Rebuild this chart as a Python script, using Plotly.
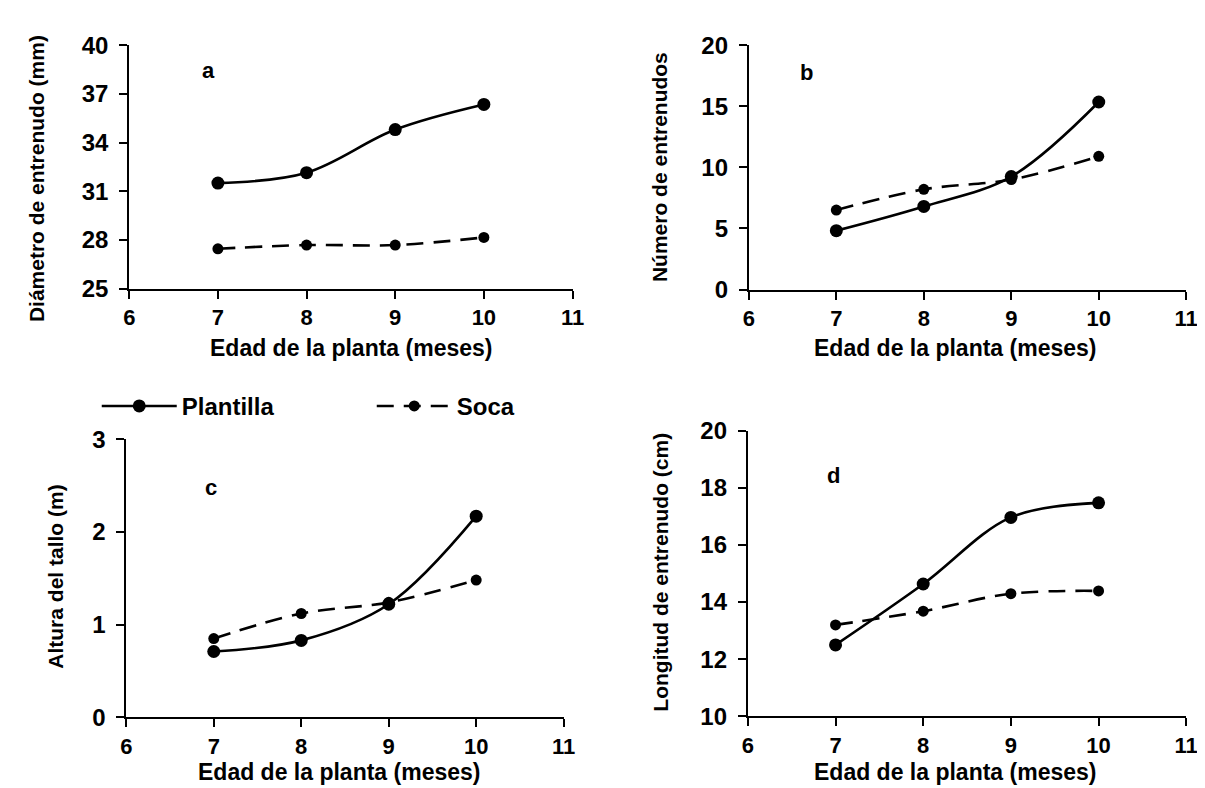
import plotly.graph_objects as go

months = [7, 8, 9, 10]

diam_plantilla = [31.5, 32.14, 34.8, 36.35]
diam_soca = [27.45, 27.68, 27.68, 28.15]

nent_plantilla = [4.82, 6.8, 9.25, 15.35]
nent_soca = [6.5, 8.2, 9.0, 10.9]

alt_plantilla = [0.71, 0.83, 1.22, 2.17]
alt_soca = [0.85, 1.12, 1.24, 1.48]

long_plantilla = [12.5, 14.63, 16.96, 17.47]
long_soca = [13.2, 13.68, 14.29, 14.39]

x_ticks = [6, 7, 8, 9, 10, 11]
ya_ticks = [25, 28, 31, 34, 37, 40]
yb_ticks = [0, 5, 10, 15, 20]
yc_ticks = [0, 1, 2, 3]
yd_ticks = [10, 12, 14, 16, 18, 20]

x_title = "Edad de la planta (meses)"
y_titles = ["Diámetro de entrenudo (mm)", "Número de entrenudos",
            "Altura del tallo (m)", "Longitud de entrenudo (cm)"]
panel_letters = ["a", "b", "c", "d"]

FONT = "Arial, Liberation Sans, sans-serif"

fig = go.Figure()

panels = [
    (diam_plantilla, diam_soca, "x", "y"),
    (nent_plantilla, nent_soca, "x2", "y2"),
    (alt_plantilla, alt_soca, "x3", "y3"),
    (long_plantilla, long_soca, "x4", "y4"),
]

for i, (pl, so, xa, ya) in enumerate(panels):
    fig.add_trace(go.Scatter(
        x=months, y=pl, xaxis=xa, yaxis=ya, name="Plantilla",
        mode="lines+markers", line=dict(color="black", width=2.6, shape="spline"),
        marker=dict(color="black", size=13), showlegend=(i == 0), legendgroup="p",
    ))
    fig.add_trace(go.Scatter(
        x=months, y=so, xaxis=xa, yaxis=ya, name="Soca",
        mode="lines+markers",
        line=dict(color="black", width=2.6, shape="spline", dash="17px,10px"),
        marker=dict(color="black", size=11), showlegend=(i == 0), legendgroup="s",
    ))

axis_common = dict(
    showline=True, linecolor="black", linewidth=2, ticks="outside",
    ticklen=8, tickwidth=2, tickcolor="black", showgrid=False, zeroline=False,
)

domains = [
    ([117 / 1205, 567 / 1205], [1 - 276 / 788, 1 - 24 / 788]),
    ([746 / 1205, 1190 / 1205], [1 - 277 / 788, 1 - 24 / 788]),
    ([114 / 1205, 558 / 1205], [1 - 720 / 788, 1 - 432 / 788]),
    ([745 / 1205, 1190 / 1205], [1 - 719 / 788, 1 - 423 / 788]),
]
y_tick_sets = [ya_ticks, yb_ticks, yc_ticks, yd_ticks]

layout = {}
for i, ((dx, dy), yt) in enumerate(zip(domains, y_tick_sets)):
    s = "" if i == 0 else str(i + 1)
    layout["xaxis" + s] = dict(
        axis_common, domain=dx, range=[x_ticks[0], x_ticks[-1]],
        tickvals=x_ticks, anchor="y" + s, ticklabelstandoff=0,
        tickfont=dict(family=FONT, size=22, color="black", weight=700),
    )
    layout["yaxis" + s] = dict(
        axis_common, domain=dy, range=[yt[0], yt[-1]],
        tickvals=yt, anchor="x" + s, ticklabelstandoff=6,
        tickfont=dict(family=FONT, size=24, color="black", weight=700),
    )

fig.update_layout(**layout)

annotations = []
# y titles
ytitle_pos = [(23, 162), (656, 150), (42, 574), (656, 570)]
for t, (px, py) in zip(y_titles, ytitle_pos):
    annotations.append(dict(
        text=t, x=px / 1205, y=1 - py / 788, xref="paper", yref="paper",
        xanchor="center", yanchor="middle", textangle=-90, showarrow=False,
        font=dict(family=FONT, size=21, color="black", weight=700),
    ))
# x titles
xtitle_pos = [(342, 338), (955, 338), (330, 777), (955, 777)]
for (px, py) in xtitle_pos:
    annotations.append(dict(
        text=x_title, x=px / 1205, y=1 - py / 788, xref="paper", yref="paper",
        xanchor="center", yanchor="middle", showarrow=False,
        font=dict(family=FONT, size=23, color="black", weight=700),
    ))
# panel letters
letter_pos = [(197, 50), (805, 52), (200, 482), (832, 470)]
for t, (px, py) in zip(panel_letters, letter_pos):
    annotations.append(dict(
        text=t, x=px / 1205, y=1 - py / 788, xref="paper", yref="paper",
        xanchor="center", yanchor="middle", showarrow=False,
        font=dict(family=FONT, size=22, color="black", weight=700),
    ))

fig.update_layout(
    width=1205, height=788,
    margin=dict(l=0, r=0, t=0, b=0),
    paper_bgcolor="white", plot_bgcolor="white",
    annotations=annotations,
    showlegend=True,
    legend=dict(
        orientation="h", x=84 / 1205, y=1 - 398 / 788, xanchor="left", yanchor="middle",
        font=dict(family=FONT, size=24, color="black", weight=700),
        bgcolor="rgba(0,0,0,0)",
        entrywidth=185, entrywidthmode="pixels", itemwidth=75,
    ),
)

fig.write_html("out.html")
